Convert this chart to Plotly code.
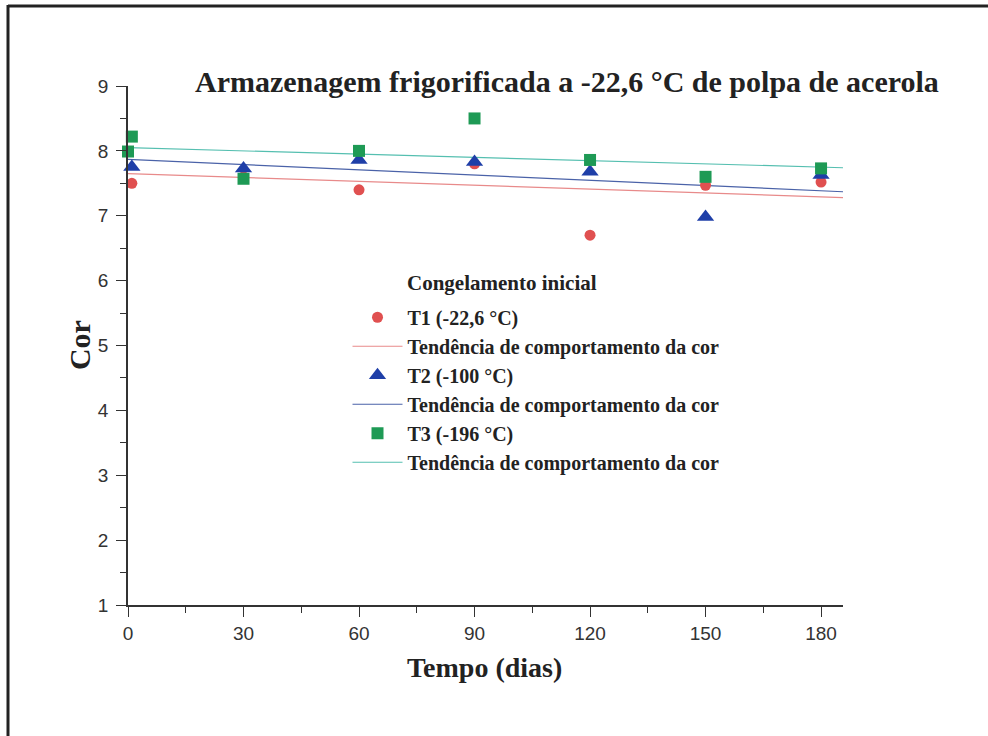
import plotly.graph_objects as go

# ---- data ----
t1_days = [1, 30, 60, 90, 120, 150, 180]
t1_cor = [7.50, 7.60, 7.40, 7.80, 6.70, 7.47, 7.52]

t2_days = [1, 30, 60, 90, 120, 150, 180]
t2_cor = [7.75, 7.73, 7.86, 7.83, 7.68, 6.98, 7.63]

t3_days = [0, 1, 30, 60, 90, 120, 150, 180]
t3_cor = [7.99, 8.22, 7.57, 8.00, 8.50, 7.86, 7.60, 7.73]

trend_days = [0, 185.7]
t1_trend = [7.65, 7.28]
t2_trend = [7.87, 7.37]
t3_trend = [8.05, 7.74]

series_names = ["T1 (-22,6 °C)", "T2 (-100 °C)", "T3 (-196 °C)"]
trend_name = "Tendência de comportamento da cor"
x_ticks = [0, 30, 60, 90, 120, 150, 180]
y_ticks = [1, 2, 3, 4, 5, 6, 7, 8, 9]

title_text = "Armazenagem frigorificada a -22,6 °C de polpa de acerola"
legend_title = "Congelamento inicial"
x_title = "Tempo (dias)"
y_title = "Cor"

SERIF = "Liberation Serif, Times New Roman, serif"
SANS = "Liberation Sans, Arial, sans-serif"

fig = go.Figure()

# trend lines first (drawn under markers)
trend_colors = ["#E88A8A", "#4A62A8", "#55BFB0"]
for i, tr in enumerate([t1_trend, t2_trend, t3_trend]):
    fig.add_trace(go.Scatter(
        x=trend_days, y=tr, mode="lines", name=trend_name,
        line=dict(color=trend_colors[i], width=1.2),
        legendrank=2 * i + 2, cliponaxis=False,
    ))

marker_specs = [
    (t1_days, t1_cor, "circle", 11, "#E05050"),
    (t2_days, t2_cor, "triangle-up", 15, "#1F3FA8"),
    (t3_days, t3_cor, "square", 12, "#1E9A55"),
]
for i, (xd, yd, sym, sz, col) in enumerate(marker_specs):
    fig.add_trace(go.Scatter(
        x=xd, y=yd, mode="markers", name=series_names[i],
        marker=dict(symbol=sym, size=sz, color=col, line=dict(width=0)),
        legendrank=2 * i + 1, cliponaxis=False,
    ))

axis_common = dict(
    showgrid=False, zeroline=False, showline=True, linecolor="#333333", linewidth=1.5,
    ticks="outside", ticklen=10, tickwidth=1.3, tickcolor="#333333",
    tickfont=dict(family=SANS, size=19, color="#333333"),
)

fig.update_xaxes(
    range=[0, 185.7], tickvals=x_ticks, ticktext=[str(v) for v in x_ticks],
    minor=dict(dtick=15, tick0=0, ticks="outside", ticklen=6, tickcolor="#333333", tickwidth=1.2),
    **axis_common,
)
fig.update_yaxes(
    range=[1, 9], tickvals=y_ticks, ticktext=[str(v) for v in y_ticks],
    minor=dict(dtick=0.5, tick0=0, ticks="outside", ticklen=6, tickcolor="#333333", tickwidth=1.2),
    ticklabelstandoff=4,
    **axis_common,
)

fig.update_layout(
    width=988, height=736,
    margin=dict(l=128, r=145, t=86, b=131),
    paper_bgcolor="white", plot_bgcolor="white",
    showlegend=True,
    legend=dict(
        x=0.307, xanchor="left", y=0.592, yanchor="top",
        bgcolor="rgba(0,0,0,0)", borderwidth=0,
        font=dict(family=SERIF, size=20, color="#222222", weight="bold"),
        itemwidth=50, traceorder="normal",
    ),
    annotations=[
        dict(text="<b>" + title_text + "</b>", xref="paper", yref="paper",
             x=0.614, y=1.008, xanchor="center", yanchor="middle", showarrow=False,
             font=dict(family=SERIF, size=30, color="#222222")),
        dict(text="<b>" + legend_title + "</b>", xref="paper", yref="paper",
             x=(405 - 128) / 715, y=(605 - 283) / 519, xanchor="left", yanchor="middle",
             showarrow=False, font=dict(family=SERIF, size=21, color="#222222")),
        dict(text="<b>" + x_title + "</b>", xref="paper", yref="paper",
             x=0.499, y=-0.121, xanchor="center", yanchor="middle", showarrow=False,
             font=dict(family=SERIF, size=28, color="#222222")),
        dict(text="<b>" + y_title + "</b>", xref="paper", yref="paper",
             x=-0.067, y=0.501, xanchor="center", yanchor="middle", showarrow=False,
             textangle=-90, font=dict(family=SERIF, size=30, color="#222222")),
    ],
    shapes=[
        dict(type="line", xref="paper", yref="paper",
             x0=(8 - 128) / 715, x1=(8 - 128) / 715, y0=(605 - 5) / 519, y1=(605 - 740) / 519,
             line=dict(color="#222222", width=3)),
        dict(type="line", xref="paper", yref="paper",
             x0=(8 - 128) / 715, x1=(992 - 128) / 715, y0=(605 - 6) / 519, y1=(605 - 6) / 519,
             line=dict(color="#222222", width=3)),
    ],
)

fig.write_html("out.html")
